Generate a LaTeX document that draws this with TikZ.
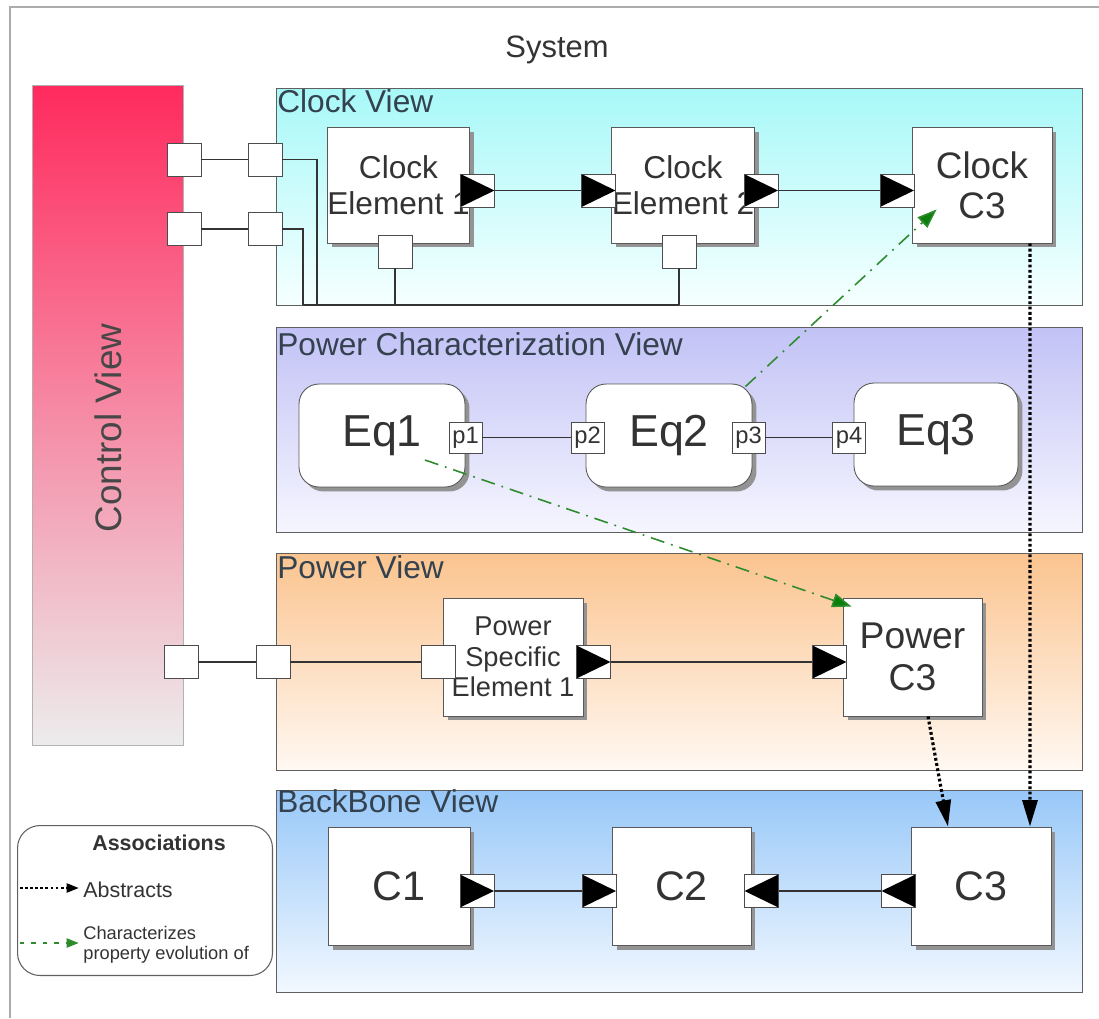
\documentclass[tikz,border=0pt]{standalone}
\usepackage{fontspec}
\setmainfont{Liberation Sans}
\usetikzlibrary{arrows.meta,shadows}
\definecolor{txt}{HTML}{333333}
\definecolor{lbl}{HTML}{34414E}
\definecolor{grn}{HTML}{2E8B2E}
\definecolor{grnd}{HTML}{0B7F0B}
\definecolor{ctltop}{HTML}{FF2A5E}
\definecolor{ctlbot}{HTML}{ECECEC}
\definecolor{clktop}{HTML}{A8F8F8}
\definecolor{clkbot}{HTML}{F6FFFF}
\definecolor{pchtop}{HTML}{C2C2F6}
\definecolor{pchbot}{HTML}{F6F6FF}
\definecolor{powtop}{HTML}{FBC48F}
\definecolor{powbot}{HTML}{FFF8F2}
\definecolor{bbtop}{HTML}{98C8F8}
\definecolor{bbbot}{HTML}{F2F8FF}
\newcommand{\myfs}[2]{\fontsize{#1}{#2}\selectfont}
\begin{document}
\begin{tikzpicture}[x=0.02cm,y=-0.02cm,
  viewbox/.style={draw=gray!75!black, line width=0.5pt, anchor=north west, inner sep=0pt, minimum width=16.12cm},
  viewlbl/.style={anchor=base west, inner sep=0pt, text=lbl, font=\myfs{18pt}{20pt}},
  elbox/.style={draw=gray!70!black, fill=white, line width=0.5pt, inner sep=0pt, align=center, text=txt,
    drop shadow={shadow xshift=0.09cm, shadow yshift=-0.09cm, fill=gray!85, opacity=1}},
  eqbox/.style={elbox, rounded corners=0.4cm, minimum height=2.06cm, font=\myfs{25.5pt}{28pt}},
  port/.style={draw=gray!60!black, fill=white, line width=0.5pt, minimum width=0.68cm, minimum height=0.66cm, inner sep=0pt},
  portR/.style={port, path picture={\fill[black] (path picture bounding box.north west) -- (path picture bounding box.east) -- (path picture bounding box.south west) -- cycle;}},
  portL/.style={port, path picture={\fill[black] (path picture bounding box.north east) -- (path picture bounding box.west) -- (path picture bounding box.south east) -- cycle;}},
  pport/.style={draw=gray!60!black, fill=white, line width=0.5pt, minimum width=0.66cm, minimum height=0.62cm, inner sep=0pt, text=txt, font=\myfs{13.5pt}{14pt}},
  wire/.style={draw=txt, line width=0.8pt},
  abst/.style={draw=black, line width=1.8pt, dash pattern=on 1.6pt off 1.4pt, -{Triangle[length=15pt,width=8.5pt]}},
  charz/.style={draw=grn, line width=0.9pt, dash pattern=on 8pt off 4pt on 1pt off 4pt, -{Triangle[length=11pt,width=8pt,fill=grnd]}}
]
\useasboundingbox (0,0) rectangle (1099,1018);
\fill[white] (0,0) rectangle (1099,1018);
\draw[gray!65, line width=1.5pt] (10,1018) -- (10,7) -- (1099,7);

\node[anchor=base, text=txt, font=\myfs{17.6pt}{20pt}] (sys) at (557,57) {System};

% Control view
\node[anchor=north west, minimum width=3.02cm, minimum height=13.2cm, top color=ctltop, bottom color=ctlbot, draw=gray!60, line width=0.4pt, inner sep=0pt] (ctl) at (32,85) {};

% Views
\node[viewbox, minimum height=4.34cm, top color=clktop, bottom color=clkbot] (clockv) at (276,88) {};
\node[viewbox, minimum height=4.1cm, top color=pchtop, bottom color=pchbot] (pcharv) at (276,327) {};
\node[viewbox, minimum height=4.34cm, top color=powtop, bottom color=powbot] (powv) at (276,553) {};
\node[viewbox, minimum height=4.04cm, top color=bbtop, bottom color=bbbot] (bbv) at (276,790) {};

\node[viewlbl] (clockl) at (277,112) {Clock View};
\node[viewlbl] (pcharl) at (277,355) {Power Characterization View};
\node[viewlbl] (powl) at (277,578) {Power View};
\node[viewlbl] (bbl) at (277,812) {BackBone View};

\node[rotate=90, text=txt!90, font=\myfs{21pt}{24pt}] (ctltext) at (108,428) {Control View};

% Clock view elements
\node[elbox, minimum width=2.82cm, minimum height=2.32cm, font=\myfs{18pt}{20.4pt}] (ce1) at (398.5,185) {Clock\\Element 1};
\node[elbox, minimum width=2.84cm, minimum height=2.32cm, font=\myfs{18pt}{20.4pt}] (ce2) at (683,185) {Clock\\Element 2};
\node[elbox, minimum width=2.8cm, minimum height=2.32cm, font=\myfs{21pt}{22.7pt}] (cc3) at (982,185) {Clock\\C3};

\node[port] (ctl1) at (184,159.5) {};
\node[port] (cv1) at (265,159.5) {};
\node[port] (ctl2) at (184,229) {};
\node[port] (cv2) at (265,229) {};
\node[portR] (ce1r) at (477.5,190.5) {};
\node[port] (ce1b) at (395,251.5) {};
\node[portR] (ce2l) at (598.5,190.5) {};
\node[portR] (ce2r) at (761,190.5) {};
\node[port] (ce2b) at (679,251.5) {};
\node[portR] (cc3l) at (897,190.5) {};

\coordinate (bus1) at (317,305);
\coordinate (bus2) at (303,305);
\coordinate (bus3) at (679,305);
\coordinate (bus4) at (395,305);

\draw[wire] (ctl1) -- (cv1);
\draw[wire] (ctl2) -- (cv2);
\draw[wire] (cv1.east) -| (bus1);
\draw[wire] (cv2.east) -| (bus2);
\draw[wire] (bus2) -- (bus3);
\draw[wire] (ce1b.south) -- (bus4);
\draw[wire] (ce2b.south) -- (bus3);
\draw[wire] (ce1r) -- (ce2l);
\draw[wire] (ce2r) -- (cc3l);

% Power characterization view
\node[eqbox, minimum width=3.32cm] (eq1) at (382,435.5) {Eq1};
\node[eqbox, minimum width=3.32cm] (eq2) at (669,435.5) {Eq2};
\node[eqbox, minimum width=3.28cm] (eq3) at (936,434.5) {Eq3};
\node[pport] (p1) at (465.5,437.5) {p1};
\node[pport] (p2) at (587.5,437.5) {p2};
\node[pport] (p3) at (748.5,437.5) {p3};
\node[pport] (p4) at (849,437.5) {p4};
\draw[wire] (p1) -- (p2);
\draw[wire] (p3) -- (p4);

% Power view
\node[elbox, minimum width=2.8cm, minimum height=2.36cm, font=\myfs{15.5pt}{17.4pt}] (pse1) at (513,657) {Power\\Specific\\Element 1};
\node[elbox, minimum width=2.78cm, minimum height=2.36cm, font=\myfs{21.2pt}{23.8pt}] (pc3) at (912.5,657) {Power\\C3};
\node[port] (pctl) at (181,662) {};
\node[port] (pvp) at (273,662) {};
\node[port] (psel) at (438,662) {};
\node[portR] (pser) at (593.5,662) {};
\node[portR] (pc3l) at (829.5,662) {};
\draw[wire] (pctl) -- (pvp);
\draw[wire] (pvp) -- (psel);
\draw[wire] (pser) -- (pc3l);

% Backbone view
\node[elbox, minimum width=2.84cm, minimum height=2.36cm, font=\myfs{23.5pt}{26pt}] (bc1) at (399,886) {C1};
\node[elbox, minimum width=2.78cm, minimum height=2.36cm, font=\myfs{23.5pt}{26pt}] (bc2) at (681.5,886) {C2};
\node[elbox, minimum width=2.8cm, minimum height=2.36cm, font=\myfs{23.5pt}{26pt}] (bc3) at (981,886) {C3};
\node[portR] (bc1r) at (477,891) {};
\node[portR] (bc2l) at (599,891) {};
\node[portL] (bc2r) at (761.5,891) {};
\node[portL] (bc3l) at (898.5,891) {};
\draw[wire] (bc1r) -- (bc2l);
\draw[wire] (bc2r) -- (bc3l);

% Abstracts associations
\draw[abst] ([xshift=0.96cm]cc3.south) -- ([xshift=0.98cm]bc3.north);
\draw[abst] ([xshift=0.31cm]pc3.south) -- ([xshift=-0.66cm]bc3.north);

% Characterizes associations
\draw[charz] ([xshift=-0.14cm,yshift=-0.06cm]eq2.north east) -- ([xshift=0.5cm,yshift=0.68cm]cc3.south west);
\draw[charz] ([xshift=0.86cm,yshift=-0.49cm]eq1.center) -- ([xshift=0.18cm,yshift=-0.18cm]pc3.north west);

% Legend
\node[draw=gray!75!black, line width=0.6pt, rounded corners=0.45cm, fill=white, anchor=north west, minimum width=5.1cm, minimum height=3.0cm, inner sep=0pt] (legend) at (17,825) {};
\node[anchor=base, text=txt, font=\bfseries\myfs{12.2pt}{14pt}] (assoc) at (159,850) {Associations};
\coordinate (la1) at (20,888);
\coordinate (lb1) at (79,888);
\coordinate (la2) at (20,943);
\coordinate (lb2) at (79,943);
\draw[draw=black, line width=1.5pt, dash pattern=on 1.6pt off 1.3pt, -{Triangle[length=7pt,width=5pt]}] (la1) -- (lb1);
\draw[draw=grn, line width=1.5pt, dash pattern=on 2.5pt off 4pt, -{Triangle[length=7pt,width=5pt,fill=grnd]}] (la2) -- (lb2);
\node[anchor=base west, inner sep=0pt, text=txt, font=\myfs{12.2pt}{14pt}] (abstxt) at (83,897) {Abstracts};
\node[anchor=north west, inner sep=0pt, align=left, text=txt, font=\myfs{10.4pt}{11.6pt}] (chartxt) at (83,926) {Characterizes\\property evolution of};
\end{tikzpicture}
\end{document}
